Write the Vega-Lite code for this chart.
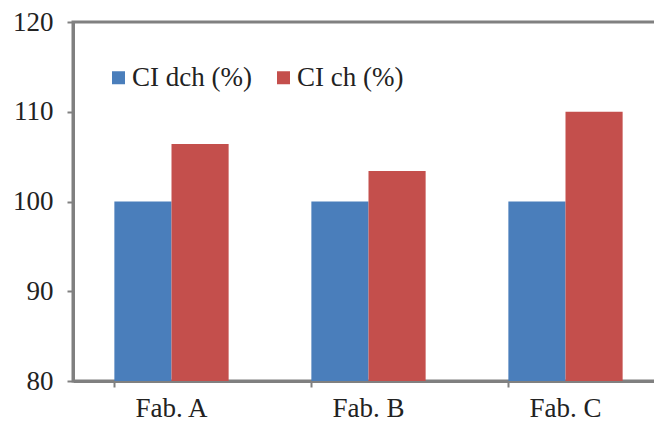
{
  "$schema": "https://vega.github.io/schema/vega-lite/v6.json",
  "autosize": {"type": "none"},
  "padding": {"left": 73, "top": 22, "right": -10, "bottom": 43},
  "width": 591,
  "height": 359,
  "background": "white",
  "config": {
    "view": {"stroke": "#808080", "strokeWidth": 3},
    "font": "Liberation Serif"
  },
  "data": {
    "values": [
      {"fab": "Fab. A", "series": "CI dch (%)", "value": 100},
      {"fab": "Fab. A", "series": "CI ch (%)", "value": 106.4},
      {"fab": "Fab. B", "series": "CI dch (%)", "value": 100},
      {"fab": "Fab. B", "series": "CI ch (%)", "value": 103.4},
      {"fab": "Fab. C", "series": "CI dch (%)", "value": 100},
      {"fab": "Fab. C", "series": "CI ch (%)", "value": 110}
    ]
  },
  "mark": {"type": "bar", "clip": true},
  "encoding": {
    "x": {
      "field": "fab", "type": "nominal", "sort": null,
      "scale": {"paddingInner": 0.42, "paddingOuter": 0.21},
      "axis": {
        "title": null, "labelAngle": 0, "labelFontSize": 27, "labelColor": "#222222",
        "labelFont": "Liberation Serif", "labelPadding": 8,
        "domainColor": "#808080", "domainWidth": 3,
        "tickColor": "#808080", "tickWidth": 2, "tickSize": 6, "bandPosition": 0
      }
    },
    "xOffset": {"field": "series", "type": "nominal", "sort": ["CI dch (%)", "CI ch (%)"], "scale": {"paddingInner": 0, "paddingOuter": 0}},
    "y": {
      "field": "value", "type": "quantitative",
      "scale": {"domain": [80, 120], "nice": false, "zero": false},
      "axis": {
        "title": null, "values": [80, 90, 100, 110, 120], "grid": false,
        "labelFontSize": 27, "labelColor": "#222222", "labelFont": "Liberation Serif",
        "labelPadding": 14, "domainColor": "#808080", "domainWidth": 3,
        "tickColor": "#808080", "tickWidth": 2, "tickSize": 6
      }
    },
    "y2": {"datum": 80},
    "color": {
      "field": "series", "type": "nominal",
      "sort": ["CI dch (%)", "CI ch (%)"],
      "scale": {"domain": ["CI dch (%)", "CI ch (%)"], "range": ["#4a7ebb", "#c44f4c"]},
      "legend": {
        "title": null, "orient": "none", "legendX": 32, "legendY": 42,
        "direction": "horizontal", "symbolType": "square", "symbolSize": 169,
        "symbolStrokeWidth": 0,
        "labelFontSize": 27, "labelFont": "Liberation Serif", "labelColor": "#222222",
        "columnPadding": 18, "labelOffset": 0
      }
    }
  }
}
